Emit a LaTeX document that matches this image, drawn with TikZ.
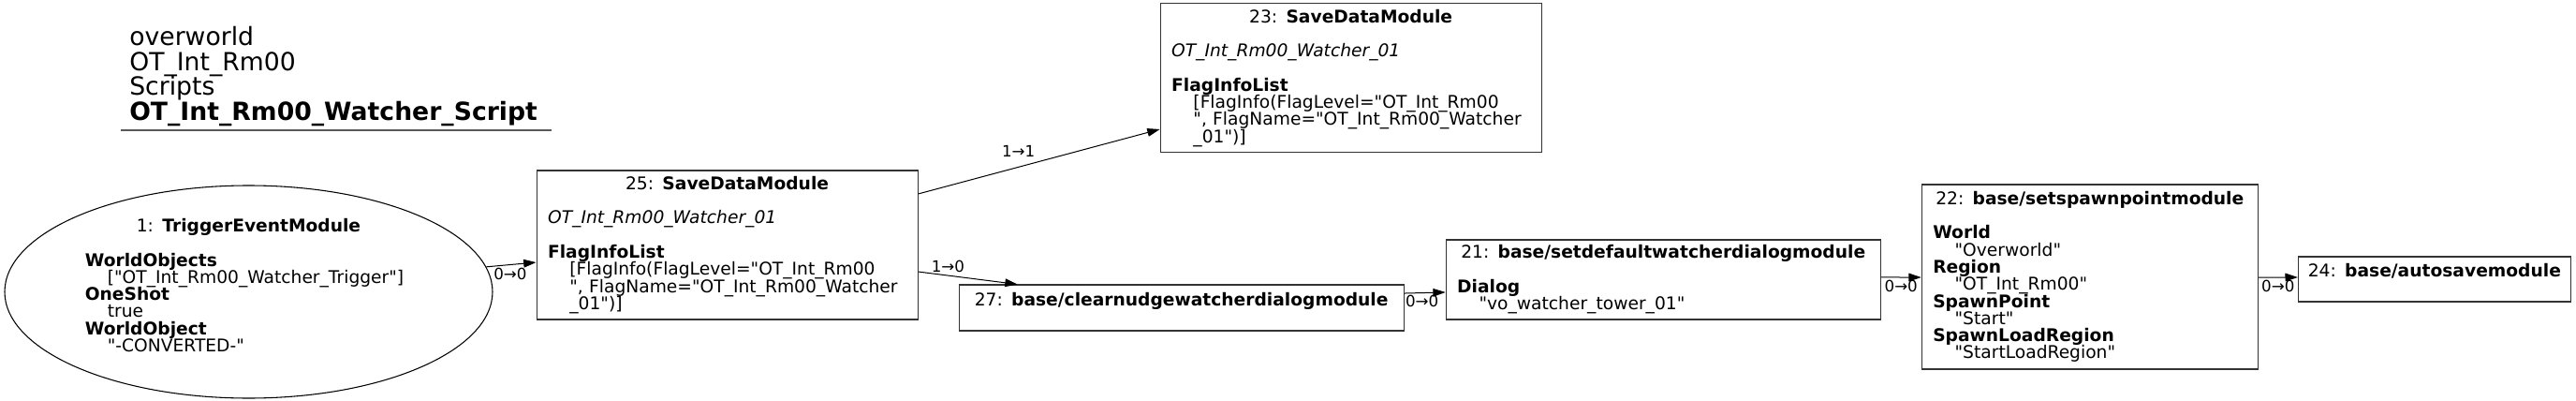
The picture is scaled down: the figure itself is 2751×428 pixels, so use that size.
\documentclass[tikz,border=0pt]{standalone}
\usepackage{fontspec}
\setmainfont{DejaVu Sans}[Ligatures=TeXOff]
\usetikzlibrary{shapes.geometric,arrows.meta,positioning}

\newcommand{\modhead}[1]{\makebox[\linewidth]{#1}}
\newcommand{\ind}{\hspace*{17.5pt}}

\begin{document}
\begin{tikzpicture}[
    x=0.75pt, y=-0.75pt,
    font={\fontsize{14}{13.7}\selectfont\lineskiplimit=-\maxdimen},
    module/.style={rectangle, draw=black!80, line width=0.8pt, inner xsep=9pt, inner ysep=0pt, align=left},
    trigger/.style={ellipse, draw, line width=0.8pt, inner sep=0pt, align=left, text width=262pt, minimum width=390.75pt, minimum height=170.25pt},
    savebox/.style={module, text width=287.25pt, minimum width=305.25pt, minimum height=119.25pt},
    arrow/.style={-{Triangle[length=10pt,width=6.5pt]}, line width=0.75pt},
    port/.style={font=\fontsize{12.5}{13}\selectfont, inner sep=0pt}
]
    \useasboundingbox (0,0) rectangle (2751,428);

    \node[anchor=north west, inner sep=0pt, align=left, font={\fontsize{20}{20}\selectfont\lineskiplimit=-\maxdimen}] (title) at (138,28)
        {overworld\\OT\_Int\_Rm00\\Scripts\\\textbf{OT\_Int\_Rm00\_Watcher\_Script}};
    \draw[black!65, line width=1.1pt] (129,139) -- (589,139);

    \node[trigger] (trigger) at (265.5,311.5) {\modhead{1: \textbf{TriggerEventModule}}\\ \mbox{}\\
        \textbf{WorldObjects}\\
        \hspace*{18pt}["OT\_Int\_Rm00\_Watcher\_Trigger"]\\
        \textbf{OneShot}\\
        \hspace*{18pt}true\\
        \textbf{WorldObject}\\
        \hspace*{18pt}"-CONVERTED-"\\[-3.2pt]
        \mbox{}};
    \node[savebox, right=34.5pt of trigger, yshift=37.5pt] (save25) {\modhead{25: \textbf{SaveDataModule}}\\ \mbox{}\\
        \textit{OT\_Int\_Rm00\_Watcher\_01}\\ \mbox{}\\
        \textbf{FlagInfoList}\\
        \ind[FlagInfo(FlagLevel="OT\_Int\_Rm00\\
        \ind",~FlagName="OT\_Int\_Rm00\_Watcher\\
        \ind\_01")]};
    \node[savebox, above right=13.5pt and 193.5pt of save25] (save23) {\modhead{23: \textbf{SaveDataModule}}\\ \mbox{}\\
        \textit{OT\_Int\_Rm00\_Watcher\_01}\\ \mbox{}\\
        \textbf{FlagInfoList}\\
        \ind[FlagInfo(FlagLevel="OT\_Int\_Rm00\\
        \ind",~FlagName="OT\_Int\_Rm00\_Watcher\\
        \ind\_01")]};
    \node[module, text width=338.25pt, minimum width=356.25pt, minimum height=36.75pt, right=32.25pt of save25, yshift=-50.25pt] (clear27)
        {\modhead{27: \textbf{base/clearnudgewatcherdialogmodule}}\\ \mbox{}};
    \node[module, text width=330pt, minimum width=348pt, minimum height=63.75pt, right=33pt of clear27, yshift=22.5pt] (dialog21)
        {\modhead{21: \textbf{base/setdefaultwatcherdialogmodule}}\\ \mbox{}\\
        \textbf{Dialog}\\
        \ind"vo\_watcher\_tower\_01"};
    \node[module, text width=251.25pt, minimum width=269.25pt, minimum height=147.75pt, right=32.25pt of dialog21, yshift=2.25pt] (spawn22)
        {\modhead{22: \textbf{base/setspawnpointmodule}}\\ \mbox{}\\
        \textbf{World}\\
        \ind"Overworld"\\
        \textbf{Region}\\
        \ind"OT\_Int\_Rm00"\\
        \textbf{SpawnPoint}\\
        \ind"Start"\\
        \textbf{SpawnLoadRegion}\\
        \ind"StartLoadRegion"};
    \node[module, text width=200.25pt, minimum width=218.25pt, minimum height=36pt, right=31.5pt of spawn22, yshift=-1.875pt] (autosave24)
        {\modhead{24: \textbf{base/autosavemodule}}\\ \mbox{}};

    \draw[arrow] (trigger.6) -- ([yshift=-13.9pt]save25.west) node[port, pos=0.48, yshift=-7.5pt] {0→0};
    \draw[arrow] ([yshift=40.9pt]save25.east) -- ([yshift=-40.9pt]save23.west) node[port, pos=0.415, yshift=12.6pt] {1→1};
    \draw[arrow] ([yshift=-21.4pt]save25.east) -- ([xshift=47.25pt]clear27.north west) node[port, pos=0.3, yshift=6.9pt] {1→0};
    \draw[arrow] ([yshift=11.6pt]clear27.east) -- ([yshift=-10.1pt]dialog21.west) node[port, pos=0.43, yshift=-7pt] {0→0};
    \draw[arrow] ([yshift=1.9pt]dialog21.east) -- ([yshift=-0.4pt]spawn22.west) node[port, midway, yshift=-6.75pt] {0→0};
    \draw[arrow] ([yshift=-0.4pt]spawn22.east) -- ([yshift=1.5pt]autosave24.west) node[port, midway, yshift=-6.75pt] {0→0};
\end{tikzpicture}
\end{document}
